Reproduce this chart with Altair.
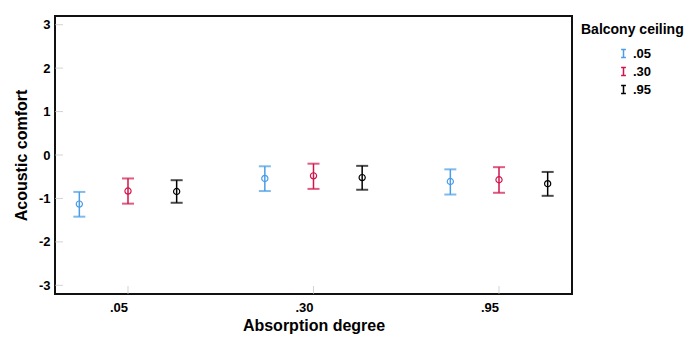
import altair as alt
import pandas as pd

absorption = [".05", ".05", ".05", ".30", ".30", ".30", ".95", ".95", ".95"]
balcony = [".05", ".30", ".95", ".05", ".30", ".95", ".05", ".30", ".95"]
mean = [-1.13, -0.83, -0.84, -0.54, -0.48, -0.52, -0.61, -0.57, -0.66]
ci_low = [-1.42, -1.12, -1.10, -0.83, -0.78, -0.80, -0.91, -0.87, -0.94]
ci_high = [-0.85, -0.54, -0.58, -0.26, -0.20, -0.25, -0.33, -0.28, -0.39]

cats = [".05", ".30", ".95"]
colors = ["#4a9de6", "#d1154b", "#000000"]
yticks = [-3, -2, -1, 0, 1, 2, 3]

df = pd.DataFrame({"absorption": absorption, "balcony": balcony, "mean": mean,
                   "lo": ci_low, "hi": ci_high})
tick_df = pd.DataFrame({"v": yticks})
xtick_df = pd.DataFrame({"absorption": cats})
title_df = pd.DataFrame({"t": ["Balcony ceiling"]})

FONT = "Liberation Sans"

xs = alt.Scale(domain=cats, paddingInner=0.213, paddingOuter=0)
ys = alt.Scale(domain=[-3.2, 3.2], nice=False, zero=False)
xo = alt.Scale(domain=cats, paddingInner=0, paddingOuter=0)
cs = alt.Scale(domain=cats, range=colors)

X = alt.X("absorption:N", scale=xs, sort=cats,
          axis=alt.Axis(title="Absorption degree", labelAngle=0, ticks=False, domain=False,
                        labelFont=FONT, labelFontSize=13, labelFontWeight="bold", labelColor="#000",
                        labelPadding=13, titleFont=FONT, titleFontSize=16, titleFontWeight="bold",
                        titleColor="#000", titlePadding=3))
Y = alt.Y("mean:Q", scale=ys,
          axis=alt.Axis(title="Acoustic comfort", values=yticks, ticks=False, domain=False, grid=False,
                        labelExpr="toString(datum.value)",
                        labelFont=FONT, labelFontSize=13, labelFontWeight="bold", labelColor="#000",
                        labelPadding=5, titleFont=FONT, titleFontSize=16, titleFontWeight="bold",
                        titleColor="#000", titlePadding=9))

legend = alt.Legend(title=None, orient="none", legendX=562, legendY=31, padding=0,
                    symbolType="M-0.6,-1H0.6M0,-1V1M-0.6,1H0.6", symbolSize=64,
                    symbolStrokeWidth=1.5, symbolFillColor="transparent",
                    labelFont=FONT, labelFontSize=13, labelFontWeight="bold", labelColor="#000",
                    labelOffset=3, rowPadding=3)

base = alt.Chart(df)

ytick_marks = alt.Chart(tick_df).mark_tick(color="#c0c0c0", size=8, thickness=1, orient="horizontal").encode(
    y=alt.Y("v:Q", scale=ys), x=alt.value(4))
xtick_marks = alt.Chart(xtick_df).mark_tick(color="#c0c0c0", size=8, thickness=1, orient="vertical").encode(
    x=alt.X("absorption:N", scale=xs, sort=cats), y=alt.value(274))

rules = base.mark_rule(strokeWidth=1.5).encode(
    x=X, xOffset=alt.XOffset("balcony:N", scale=xo, sort=cats),
    y=alt.Y("lo:Q", scale=ys), y2="hi:Q",
    color=alt.Color("balcony:N", scale=cs, legend=legend))
caps_lo = base.mark_tick(size=12, thickness=2, orient="horizontal").encode(
    x=X, xOffset=alt.XOffset("balcony:N", scale=xo, sort=cats),
    y=alt.Y("lo:Q", scale=ys), color=alt.Color("balcony:N", scale=cs, legend=None))
caps_hi = base.mark_tick(size=12, thickness=2, orient="horizontal").encode(
    x=X, xOffset=alt.XOffset("balcony:N", scale=xo, sort=cats),
    y=alt.Y("hi:Q", scale=ys), color=alt.Color("balcony:N", scale=cs, legend=None))
points = base.mark_point(shape="circle", filled=False, size=38, strokeWidth=1.2, opacity=1).encode(
    x=X, xOffset=alt.XOffset("balcony:N", scale=xo, sort=cats),
    y=Y, color=alt.Color("balcony:N", scale=cs, legend=None))
legend_title = alt.Chart(title_df).mark_text(font=FONT, fontSize=14, fontWeight="bold", color="#000",
                                              align="left", baseline="alphabetic").encode(
    text="t:N", x=alt.value(526), y=alt.value(18))

chart = alt.layer(ytick_marks, xtick_marks, rules, caps_lo, caps_hi, points, legend_title).properties(
    width=517, height=278,
    background="white",
    autosize=alt.AutoSizeParams(type="none"),
    padding={"left": 47, "top": 8, "right": 113, "bottom": 40},
).configure_view(stroke="#111", strokeWidth=2)

chart.save("out.html", embed_options={"renderer": "svg", "actions": False})
